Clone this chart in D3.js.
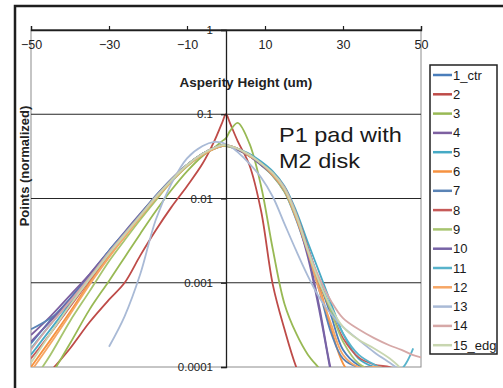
<!DOCTYPE html>
<html>
<head>
<meta charset="utf-8">
<script src="https://cdn.jsdelivr.net/npm/d3@7"></script>
<style>
  body { margin: 0; background: #fff; }
  svg { display: block; font-family: Arial, "Liberation Sans", sans-serif; }
</style>
</head>
<body>
<div id="chart"></div>
<script>
let width = 503;
let height = 388;

// asperity height (um) sample positions
let xValues = [-50, -45, -40, -35, -30, -26, -22, -18, -14, -10, -6, -3, -1, 0, 1, 3, 6, 9, 12, 15, 18, 21, 24, 27, 30, 34, 38, 42, 45, 48, 50];

let seriesNames = ['1_ctr', '2', '3', '4', '5', '6', '7', '8', '9', '10', '11', '12', '13', '14', '15_edg'];
let seriesColors = ['#4a7ebb', '#be4b48', '#98b954', '#7d60a0', '#46aac5', '#f69240', '#5a83b5', '#c65a58',
    '#a7c46f', '#7763a6', '#58b3cb', '#f6a665', '#a9bad6', '#d6a8a7', '#c8d6b0'];

let s1 = [1.9e-4, 3.6e-4, 6.5e-4, 1.25e-3, 2.4e-3, 3.9e-3, 6.4e-3, 1.07e-2, 1.68e-2, 2.5e-2, 3.4e-2, 4.0e-2, 4.3e-2, 4.3e-2, 4.2e-2, 3.9e-2, 3.3e-2, 2.6e-2, 1.95e-2, 1.3e-2, 6.3e-3, 2.6e-3, 1.0e-3, 4.0e-4, 1.6e-4, 1.05e-4, 0.95e-4, 0.9e-4, 0.9e-4, 0.9e-4, 0.9e-4];
let s2 = [5.0e-5, 8.9e-5, 1.66e-4, 3.4e-4, 6.3e-4, 1.0e-3, 2.1e-3, 4.2e-3, 7.9e-3, 1.4e-2, 2.6e-2, 4.8e-2, 7.9e-2, 1.0e-1, 7.9e-2, 4.8e-2, 2.5e-2, 7.1e-3, 9.5e-4, 2.8e-4, 1.0e-4, 5.0e-5, 3.0e-5, null, null, null, null, null, null, null, null];
let s3 = [4.0e-5, 7.9e-5, 1.9e-4, 4.8e-4, 1.05e-3, 2.0e-3, 3.8e-3, 7.1e-3, 1.26e-2, 2.1e-2, 3.2e-2, 4.0e-2, 4.8e-2, 5.2e-2, 6.3e-2, 7.9e-2, 4.5e-2, 1.4e-2, 2.5e-3, 5.6e-4, 2.5e-4, 1.4e-4, 0.95e-4, 0.63e-4, null, null, null, null, null, null, null];
let s4 = [2.4e-4, 4.0e-4, 7.1e-4, 1.26e-3, 2.4e-3, 4.0e-3, 6.6e-3, 1.07e-2, 1.7e-2, 2.5e-2, 3.4e-2, 3.9e-2, 4.2e-2, 4.2e-2, 4.1e-2, 3.8e-2, 3.2e-2, 2.6e-2, 2.0e-2, 1.32e-2, 6.3e-3, 2.2e-3, 5.0e-4, 0.89e-4, 3.0e-5, null, null, null, null, null, null];
let s5 = [1.4e-4, 2.8e-4, 5.6e-4, 1.12e-3, 2.2e-3, 3.7e-3, 6.3e-3, 1.02e-2, 1.62e-2, 2.45e-2, 3.3e-2, 3.9e-2, 4.2e-2, 4.2e-2, 4.2e-2, 3.9e-2, 3.4e-2, 2.75e-2, 2.1e-2, 1.4e-2, 7.1e-3, 3.0e-3, 1.3e-3, 5.6e-4, 2.5e-4, 1.26e-4, 1.0e-4, 0.9e-4, 0.9e-4, 0.9e-4, 0.9e-4];
let s6 = [1.0e-4, 2.1e-4, 4.5e-4, 1.0e-3, 2.1e-3, 3.5e-3, 6.0e-3, 1.0e-2, 1.58e-2, 2.45e-2, 3.3e-2, 3.9e-2, 4.2e-2, 4.3e-2, 4.2e-2, 3.9e-2, 3.2e-2, 2.6e-2, 1.9e-2, 1.26e-2, 6.0e-3, 2.4e-3, 8.9e-4, 2.8e-4, 1.1e-4, 6.3e-5, null, null, null, null, null];
let s7 = [2.8e-4, 3.8e-4, 5.6e-4, 1.12e-3, 2.4e-3, 3.9e-3, 6.5e-3, 1.08e-2, 1.7e-2, 2.5e-2, 3.4e-2, 4.0e-2, 4.3e-2, 4.3e-2, 4.2e-2, 3.8e-2, 3.2e-2, 2.5e-2, 1.86e-2, 1.2e-2, 5.6e-3, 2.2e-3, 7.9e-4, 2.5e-4, 1.26e-4, 1.0e-4, 1.0e-4, 0.8e-4, null, null, null];
let s8 = [1.26e-4, 2.5e-4, 5.2e-4, 1.07e-3, 2.2e-3, 3.7e-3, 6.2e-3, 1.03e-2, 1.64e-2, 2.5e-2, 3.4e-2, 4.0e-2, 4.3e-2, 4.3e-2, 4.2e-2, 3.9e-2, 3.3e-2, 2.6e-2, 2.0e-2, 1.35e-2, 6.6e-3, 2.6e-3, 1.0e-3, 4.5e-4, 2.2e-4, 1.3e-4, 1.07e-4, 1.0e-4, 0.9e-4, null, null];
let s9 = [6.3e-5, 1.4e-4, 3.5e-4, 7.9e-4, 1.8e-3, 3.2e-3, 5.6e-3, 9.5e-3, 1.58e-2, 2.4e-2, 3.3e-2, 3.9e-2, 4.2e-2, 4.2e-2, 4.1e-2, 3.8e-2, 3.2e-2, 2.5e-2, 1.86e-2, 1.2e-2, 5.8e-3, 2.3e-3, 1.0e-3, 4.5e-4, 2.0e-4, 1.1e-4, 0.9e-4, null, null, null, null];
let s10 = [2.0e-4, 3.5e-4, 6.3e-4, 1.17e-3, 2.3e-3, 3.8e-3, 6.3e-3, 1.05e-2, 1.66e-2, 2.5e-2, 3.4e-2, 4.0e-2, 4.3e-2, 4.3e-2, 4.2e-2, 3.8e-2, 3.2e-2, 2.5e-2, 1.9e-2, 1.26e-2, 6.0e-3, 2.0e-3, 4.5e-4, 7.9e-5, null, null, null, null, null, null, null];
let s11 = [1.66e-4, 3.2e-4, 6.0e-4, 1.15e-3, 2.3e-3, 3.8e-3, 6.3e-3, 1.05e-2, 1.66e-2, 2.5e-2, 3.4e-2, 4.0e-2, 4.3e-2, 4.3e-2, 4.2e-2, 3.9e-2, 3.3e-2, 2.65e-2, 2.0e-2, 1.35e-2, 6.6e-3, 2.5e-3, 1.05e-3, 5.0e-4, 2.5e-4, 1.4e-4, 1.07e-4, 0.9e-4, 0.95e-4, 1.66e-4, null];
let s12 = [8.9e-5, 1.9e-4, 4.2e-4, 9.5e-4, 2.0e-3, 3.5e-3, 6.0e-3, 1.0e-2, 1.6e-2, 2.45e-2, 3.3e-2, 3.9e-2, 4.2e-2, 4.3e-2, 4.2e-2, 3.9e-2, 3.2e-2, 2.6e-2, 1.9e-2, 1.26e-2, 5.9e-3, 2.3e-3, 7.9e-4, 3.2e-4, 1.4e-4, 1.0e-4, 1.0e-4, 0.95e-4, null, null, null];
let s13 = [null, null, null, null, 1.74e-4, 4.0e-4, 1.26e-3, 5.6e-3, 1.5e-2, 3.0e-2, 4.2e-2, 4.7e-2, 4.6e-2, 4.4e-2, 4.2e-2, 3.55e-2, 2.6e-2, 1.78e-2, 1.05e-2, 5.0e-3, 2.4e-3, 1.2e-3, 6.6e-4, 4.2e-4, 3.0e-4, 2.1e-4, 1.5e-4, 1.12e-4, 0.9e-4, null, null];
let s14 = [1.6e-4, 3.2e-4, 6.0e-4, 1.15e-3, 2.3e-3, 3.8e-3, 6.3e-3, 1.05e-2, 1.66e-2, 2.5e-2, 3.4e-2, 4.0e-2, 4.3e-2, 4.3e-2, 4.2e-2, 3.9e-2, 3.3e-2, 2.6e-2, 2.0e-2, 1.35e-2, 6.6e-3, 2.5e-3, 1.12e-3, 6.0e-4, 3.8e-4, 2.8e-4, 2.2e-4, 1.8e-4, 1.6e-4, 1.38e-4, 1.3e-4];
let s15 = [1.12e-4, 2.5e-4, 5.4e-4, 1.1e-3, 2.2e-3, 3.7e-3, 6.2e-3, 1.03e-2, 1.64e-2, 2.5e-2, 3.4e-2, 4.0e-2, 4.3e-2, 4.3e-2, 4.2e-2, 3.9e-2, 3.3e-2, 2.6e-2, 2.0e-2, 1.3e-2, 6.3e-3, 2.4e-3, 1.0e-3, 5.0e-4, 3.0e-4, 2.1e-4, 1.66e-4, 1.26e-4, 0.95e-4, null, null];
let allSeries = [s1, s2, s3, s4, s5, s6, s7, s8, s9, s10, s11, s12, s13, s14, s15];

let xTicks = [-50, -30, -10, 10, 30, 50];
let yTicks = [1, 0.1, 0.01, 0.001, 0.0001];
let yTickLabels = ['1', '0.1', '0.01', '0.001', '0.0001'];

let svg = d3.select('#chart')
    .append('svg')
    .attr('width', width)
    .attr('height', height);

svg.append('rect')
    .attr('width', width)
    .attr('height', height)
    .attr('fill', '#fff');

// outer frame (runs off the right/bottom edge)
svg.append('rect')
    .attr('x', 15).attr('y', 6)
    .attr('width', 600).attr('height', 600)
    .attr('fill', 'none')
    .attr('stroke', '#1e1e1e')
    .attr('stroke-width', 2.5);

let plot = { left: 31, right: 421, top: 30, bottom: 367 };

let xScale = d3.scaleLinear()
    .domain([-50, 50])
    .range([plot.left, plot.right]);
let yScale = d3.scaleLog()
    .domain([0.0001, 1])
    .range([plot.bottom, plot.top]);

// plot area border
svg.append('rect')
    .attr('x', plot.left).attr('y', plot.top)
    .attr('width', plot.right - plot.left)
    .attr('height', plot.bottom - plot.top)
    .attr('fill', 'none')
    .attr('stroke', '#8c8c8c')
    .attr('stroke-width', 1);

// major gridlines
svg.append('g')
    .selectAll('line')
    .data(yTicks.slice(0, 4))
    .enter()
    .append('line')
    .attr('x1', plot.left).attr('x2', plot.right)
    .attr('y1', d => yScale(d)).attr('y2', d => yScale(d))
    .attr('stroke', '#262626')
    .attr('stroke-width', 1.2);

// series
svg.append('clipPath')
    .attr('id', 'clip')
    .append('rect')
    .attr('x', plot.left).attr('y', plot.top)
    .attr('width', plot.right - plot.left)
    .attr('height', plot.bottom - plot.top);

let lineGen = d3.line()
    .defined(d => d[1] != null)
    .x(d => xScale(d[0]))
    .y(d => yScale(d[1]))
    .curve(d3.curveCatmullRom.alpha(0.5));

svg.append('g')
    .attr('clip-path', 'url(#clip)')
    .selectAll('path')
    .data(allSeries)
    .enter()
    .append('path')
    .attr('d', vals => lineGen(vals.map((v, i) => [xValues[i], v])))
    .attr('fill', 'none')
    .attr('stroke', (d, i) => seriesColors[i])
    .attr('stroke-width', 1.8)
    .attr('stroke-linejoin', 'round');

// x axis along the top (y = 1), ticks pointing up
let xAxis = d3.axisTop(xScale)
    .tickValues(xTicks)
    .tickSize(4)
    .tickFormat(d3.format('d'));
let xAxisGroup = svg.append('g')
    .attr('transform', `translate(0,${plot.top})`)
    .call(xAxis);
xAxisGroup.select('.domain').attr('stroke', '#1e1e1e').attr('stroke-width', 1.3);
xAxisGroup.selectAll('.tick line').attr('stroke', '#1e1e1e').attr('stroke-width', 1.2);
xAxisGroup.selectAll('.tick text')
    .attr('y', 15)
    .attr('dy', '0.35em')
    .attr('fill', '#222')
    .style('font-size', '12.5px')
    .style('font-family', 'Arial, "Liberation Sans", sans-serif');

// y axis through x = 0
let yAxis = d3.axisLeft(yScale)
    .tickValues(yTicks)
    .tickSize(5)
    .tickPadding(8)
    .tickFormat((d, i) => yTickLabels[i]);
let yAxisGroup = svg.append('g')
    .attr('transform', `translate(${xScale(0)},0)`)
    .call(yAxis);
yAxisGroup.select('.domain').attr('stroke', '#1e1e1e').attr('stroke-width', 1.3);
yAxisGroup.selectAll('.tick line').attr('stroke', '#1e1e1e').attr('stroke-width', 1.2);
yAxisGroup.selectAll('.tick text')
    .attr('fill', '#222')
    .style('font-size', '11.5px')
    .style('font-family', 'Arial, "Liberation Sans", sans-serif');

// axis titles
svg.append('text')
    .attr('x', 246).attr('y', 82)
    .attr('dy', '0.35em')
    .attr('text-anchor', 'middle')
    .style('font-size', '13.5px')
    .style('font-weight', 'bold')
    .attr('fill', '#222')
    .text('Asperity Height (um)');

svg.append('text')
    .attr('transform', 'translate(24,166) rotate(-90)')
    .attr('dy', '0.35em')
    .attr('text-anchor', 'middle')
    .style('font-size', '13px')
    .style('font-weight', 'bold')
    .attr('fill', '#222')
    .text('Points (normalized)');

// annotation (slightly wide, as in the original)
let note = svg.append('text')
    .attr('transform', 'translate(279,0) scale(1.12,1)')
    .style('font-size', '21px')
    .attr('fill', '#1a1a1a');
note.append('tspan').attr('x', 0).attr('y', 142).text('P1 pad with');
note.append('tspan').attr('x', 0).attr('y', 168).text('M2 disk');

// legend
let legend = svg.append('g');
legend.append('rect')
    .attr('x', 430).attr('y', 65)
    .attr('width', 67).attr('height', 289)
    .attr('fill', '#fff')
    .attr('stroke', '#222')
    .attr('stroke-width', 1.5);
let legendItems = legend.selectAll('.item')
    .data(seriesNames)
    .enter()
    .append('g')
    .classed('item', true)
    .attr('transform', (d, i) => `translate(0,${75 + i * 19.3})`);
legendItems.append('line')
    .attr('x1', 433).attr('x2', 452)
    .attr('stroke', (d, i) => seriesColors[i])
    .attr('stroke-width', 2.5);
legendItems.append('text')
    .attr('x', 453)
    .attr('dy', '0.35em')
    .style('font-size', '13px')
    .attr('fill', '#1a1a1a')
    .text(d => d);
</script>
</body>
</html>
